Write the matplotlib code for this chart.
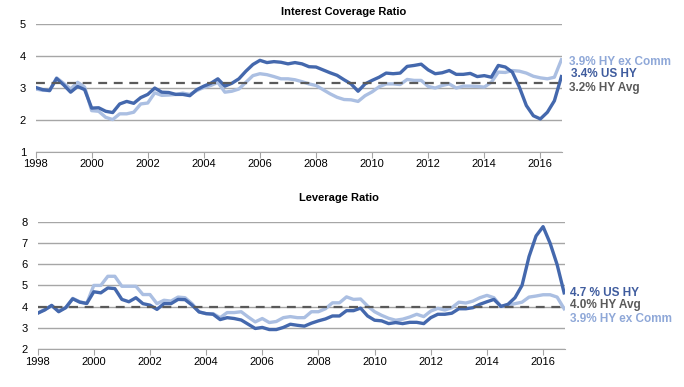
import matplotlib.pyplot as plt
import numpy as np

plt.rcParams['font.family'] = ['Liberation Sans', 'DejaVu Sans']

# quarterly observations, 1998 Q1 .. 2016 Q4
years = np.arange(1998, 2017, 0.25)

# --- Interest coverage ratio ---
cov_us_hy = [3.02, 2.95, 2.92, 3.30, 3.10, 2.87, 3.05, 2.95,
             2.37, 2.38, 2.27, 2.23, 2.50, 2.58, 2.52, 2.70,
             2.80, 3.00, 2.87, 2.86, 2.80, 2.80, 2.76, 2.95,
             3.06, 3.15, 3.29, 3.06, 3.15, 3.29, 3.53, 3.74,
             3.87, 3.80, 3.83, 3.81, 3.76, 3.80, 3.76, 3.67,
             3.66, 3.57, 3.48, 3.40, 3.26, 3.13, 2.90, 3.13,
             3.24, 3.34, 3.47, 3.45, 3.47, 3.68, 3.71, 3.75,
             3.57, 3.45, 3.48, 3.55, 3.43, 3.43, 3.46, 3.36,
             3.39, 3.34, 3.71, 3.66, 3.50, 3.03, 2.45, 2.13,
             2.03, 2.24, 2.60, 3.36]
cov_ex_comm = [2.97, 2.93, 2.92, 3.32, 3.15, 2.97, 3.18, 3.03,
               2.29, 2.27, 2.08, 2.01, 2.19, 2.19, 2.24, 2.50,
               2.53, 2.85, 2.77, 2.78, 2.80, 2.84, 2.80, 2.92,
               3.02, 3.08, 3.18, 2.87, 2.90, 2.97, 3.18, 3.39,
               3.45, 3.42, 3.36, 3.29, 3.29, 3.26, 3.20, 3.13,
               3.08, 2.95, 2.82, 2.71, 2.64, 2.63, 2.58, 2.76,
               2.88, 3.04, 3.13, 3.13, 3.11, 3.27, 3.24, 3.24,
               3.05, 3.00, 3.08, 3.13, 3.00, 3.06, 3.06, 3.05,
               3.03, 3.18, 3.50, 3.49, 3.55, 3.53, 3.47, 3.37,
               3.32, 3.29, 3.34, 3.89]
cov_avg = 3.16

# --- Leverage ratio ---
lev_us_hy = [3.69, 3.84, 4.06, 3.76, 3.95, 4.37, 4.21, 4.15,
             4.70, 4.65, 4.88, 4.85, 4.34, 4.23, 4.42, 4.14,
             4.07, 3.87, 4.14, 4.14, 4.34, 4.33, 4.07, 3.75,
             3.67, 3.64, 3.39, 3.48, 3.44, 3.37, 3.17, 2.97,
             3.02, 2.92, 2.92, 3.02, 3.17, 3.12, 3.08, 3.22,
             3.33, 3.42, 3.56, 3.56, 3.81, 3.81, 3.93, 3.56,
             3.36, 3.33, 3.20, 3.25, 3.20, 3.26, 3.26, 3.20,
             3.48, 3.64, 3.64, 3.69, 3.90, 3.90, 3.95, 4.11,
             4.23, 4.34, 4.01, 4.11, 4.42, 5.00, 6.36, 7.33,
             7.77, 6.99, 5.98, 4.65]
lev_ex_comm = [3.69, 3.87, 4.03, 3.80, 3.95, 4.39, 4.23, 4.15,
               5.00, 5.00, 5.43, 5.43, 4.96, 4.96, 4.96, 4.57,
               4.57, 4.14, 4.30, 4.26, 4.45, 4.42, 4.14, 3.75,
               3.67, 3.67, 3.48, 3.72, 3.72, 3.76, 3.51, 3.28,
               3.44, 3.25, 3.30, 3.48, 3.53, 3.48, 3.48, 3.76,
               3.76, 3.90, 4.18, 4.18, 4.46, 4.34, 4.36, 4.03,
               3.76, 3.59, 3.45, 3.36, 3.41, 3.51, 3.64, 3.53,
               3.79, 3.92, 3.84, 3.95, 4.21, 4.17, 4.26, 4.42,
               4.53, 4.42, 4.01, 4.07, 4.14, 4.21, 4.45, 4.50,
               4.56, 4.56, 4.45, 3.90]
lev_avg = 3.98

dark = '#4468ad'
light = '#abbfe2'
avg_col = '#5a5a5a'
grid_col = '#a6a6a6'
xticks = list(range(1998, 2017, 2))


def style_axis(ax, ylim):
    ax.set_xlim(1998, 2016.78)
    ax.set_ylim(*ylim)
    ax.set_yticks(range(ylim[0], ylim[1] + 1))
    ax.set_xticks(xticks)
    ax.grid(axis='y', color=grid_col, linewidth=1)
    ax.set_axisbelow(True)
    for s in ['left', 'right', 'top']:
        ax.spines[s].set_visible(False)
    ax.spines['bottom'].set_color(grid_col)
    ax.tick_params(axis='y', length=0, labelsize=8, pad=7)
    ax.tick_params(axis='x', length=4, color=grid_col, labelsize=8, pad=1.5)


fig = plt.figure(figsize=(6.84, 3.87), dpi=100)

# Interest coverage
ax1 = fig.add_axes([0.052, 0.608, 0.770, 0.329])
ax1.plot(years, cov_ex_comm, color=light, linewidth=2.4)
ax1.plot(years, cov_us_hy, color=dark, linewidth=2.4)
ax1.axhline(cov_avg, color=avg_col, linestyle=(0, (4, 3)), linewidth=1.6)
style_axis(ax1, (1, 5))
fig.text(0.503, 0.968, 'Interest Coverage Ratio', ha='center', va='center',
         fontsize=8, fontweight='bold')
ax1.text(1.012, 0.705, '3.9% HY ex Comm', transform=ax1.transAxes,
         color='#8fa8d8', fontsize=8.5, fontweight='bold', va='center')
ax1.text(1.016, 0.610, '3.4% US HY', transform=ax1.transAxes,
         color='#3f5c9e', fontsize=8.5, fontweight='bold', va='center')
ax1.text(1.012, 0.500, '3.2% HY Avg', transform=ax1.transAxes,
         color=avg_col, fontsize=8.5, fontweight='bold', va='center')

# Leverage
ax2 = fig.add_axes([0.055, 0.098, 0.771, 0.329])
ax2.plot(years, lev_ex_comm, color=light, linewidth=2.4)
ax2.plot(years, lev_us_hy, color=dark, linewidth=2.4)
ax2.axhline(lev_avg, color=avg_col, linestyle=(0, (4, 3)), linewidth=1.6)
style_axis(ax2, (2, 8))
fig.text(0.495, 0.488, 'Leverage Ratio', ha='center', va='center',
         fontsize=8, fontweight='bold')
ax2.text(1.010, 0.440, '4.7 % US HY', transform=ax2.transAxes,
         color='#3f5c9e', fontsize=8.5, fontweight='bold', va='center')
ax2.text(1.010, 0.345, '4.0% HY Avg', transform=ax2.transAxes,
         color=avg_col, fontsize=8.5, fontweight='bold', va='center')
ax2.text(1.010, 0.235, '3.9% HY ex Comm', transform=ax2.transAxes,
         color='#8fa8d8', fontsize=8.5, fontweight='bold', va='center')

fig.savefig('out.png', dpi=100)
